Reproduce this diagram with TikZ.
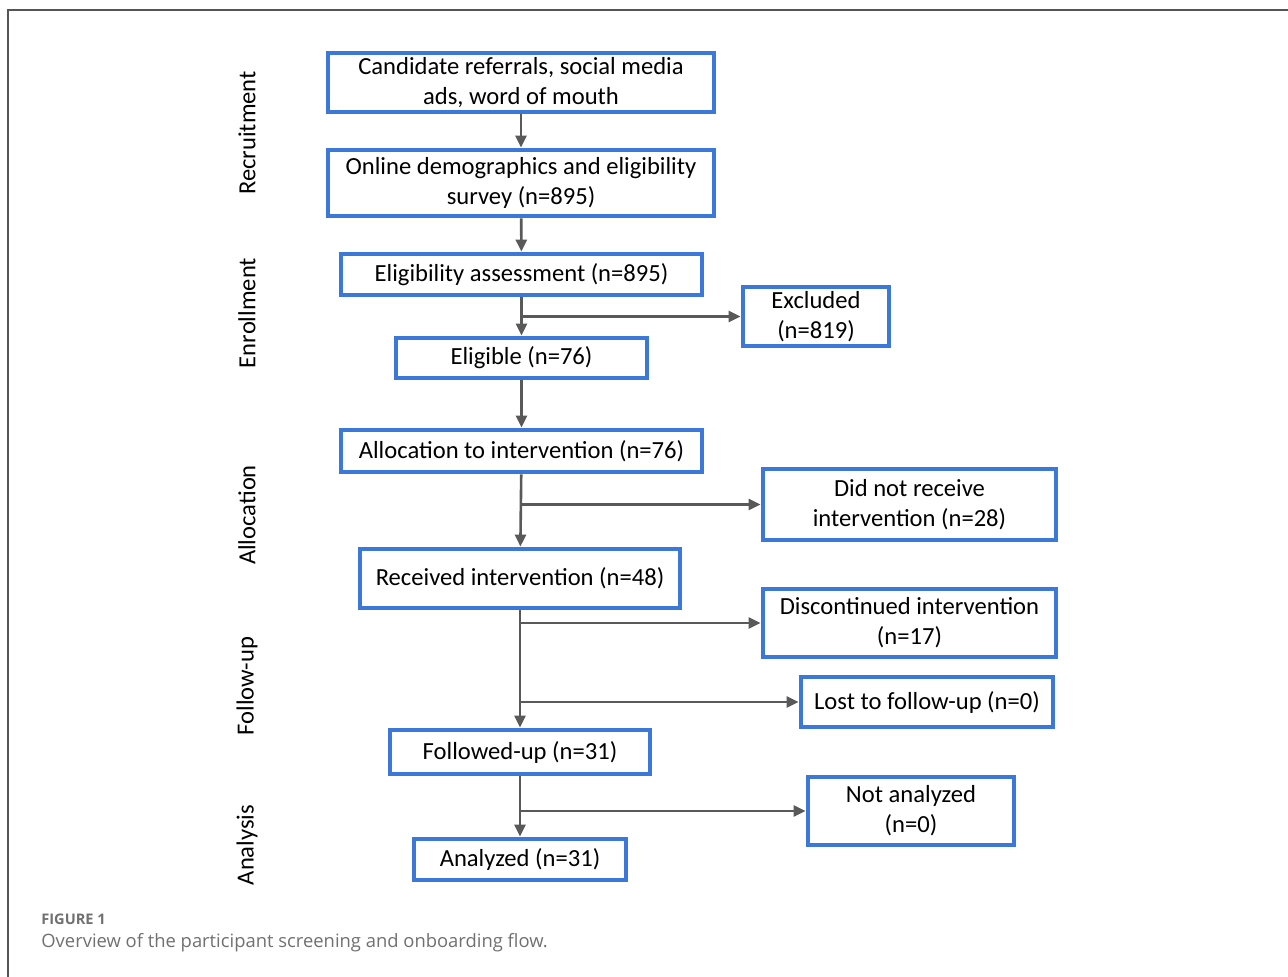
\documentclass[tikz,border=0pt]{standalone}
\usepackage{fontspec}
\setmainfont{Carlito}
\newfontfamily\capfont{Open Sans}
\usetikzlibrary{arrows.meta}

\definecolor{boxblue}{RGB}{60,120,216}
\definecolor{arrgray}{RGB}{89,89,89}
\definecolor{capgray}{RGB}{112,112,112}
\definecolor{framegray}{RGB}{85,85,85}

\begin{document}
\begin{tikzpicture}[x=0.5pt, y=-0.5pt,
        stage/.style={draw=boxblue, line width=2.4pt, inner sep=0pt, align=center,
            font=\fontsize{12.3}{15}\selectfont},
        phase/.style={rotate=90, font=\fontsize{12.3}{14}\selectfont},
        arr/.style={-{Triangle[length=6pt, width=5.5pt]}, arrgray, line width=1.3pt}]
        \useasboundingbox (0,0) rectangle (1288,977);
        \draw[framegray, line width=1pt] (1288,10) -- (8,10) -- (8,977);

        % phases
        \node[phase] (lrecruit) at (247,133) {Recruitment};
        \node[phase] (lenrol) at (247,313) {Enrollment};
        \node[phase] (lalloc) at (247,515) {Allocation};
        \node[phase] (lfollow) at (247,686) {Follow-up};
        \node[phase] (lanalysis) at (247,845) {Analysis};

        % main column
        \node[stage, minimum width=193pt, minimum height=29.5pt] (refer) at (521,82.5) {Candidate referrals, social media\\ads, word of mouth};
        \node[stage, minimum width=193pt, minimum height=33pt] (survey) at (521,183) {Online demographics and eligibility\\survey (n=895)};
        \node[stage, minimum width=180.5pt, minimum height=20.5pt] (assess) at (521.5,274.5) {Eligibility assessment (n=895)};
        \node[stage, minimum width=125.5pt, minimum height=20pt] (elig) at (521.5,358) {Eligible (n=76)};
        \node[stage, minimum width=180.5pt, minimum height=21pt] (alloc) at (521.5,451) {Allocation to intervention (n=76)};
        \node[stage, minimum width=160pt, minimum height=29.5pt] (recv) at (520,578.5) {Received intervention (n=48)};
        \node[stage, minimum width=130pt, minimum height=22pt] (follow) at (520,752) {Followed-up (n=31)};
        \node[stage, minimum width=106pt, minimum height=20.5pt] (analysed) at (520,859.5) {Analyzed (n=31)};

        % side boxes
        \node[stage, minimum width=73pt, minimum height=29.5pt] (excl) at (816,316.5) {Excluded\\(n=819)};
        \node[stage, minimum width=146.5pt, minimum height=35.5pt] (norecv) at (909.5,504.5) {Did not receive\\intervention (n=28)};
        \node[stage, minimum width=146.5pt, minimum height=34pt] (discont) at (909.5,623) {Discontinued intervention\\(n=17)};
        \node[stage, minimum width=126pt, minimum height=25pt] (lost) at (927,702) {Lost to follow-up (n=0)};
        \node[stage, minimum width=103pt, minimum height=34pt] (notan) at (911,811) {Not analyzed\\(n=0)};

        % flow
        \draw[arr] (refer) -- (survey);
        \draw[arr] (survey) -- (assess);
        \draw[arr] (assess) -- (elig);
        \draw[arr] (elig) -- (alloc);
        \draw[arr] (alloc) -- (recv);
        \draw[arr] (recv) -- (follow);
        \draw[arr] (follow) -- (analysed);

        \draw[arr] (assess.south |- excl.west) -- (excl.west);
        \draw[arr] (alloc.south |- norecv.west) -- (norecv.west);
        \draw[arr] (recv.south |- discont.west) -- (discont.west);
        \draw[arr] (recv.south |- lost.west) -- (lost.west);
        \draw[arr] (follow.south |- notan.west) -- (notan.west);

        % caption
        \node[anchor=west, capgray, inner sep=0pt, font=\capfont\fontsize{7.3}{8}\selectfont\bfseries] (capnum) at (41,919) {FIGURE 1};
        \node[anchor=west, capgray, inner sep=0pt, font=\capfont\fontsize{9.2}{10}\selectfont] (captext) at (41,943) {Overview of the participant screening and onboarding flow.};
\end{tikzpicture}
\end{document}
